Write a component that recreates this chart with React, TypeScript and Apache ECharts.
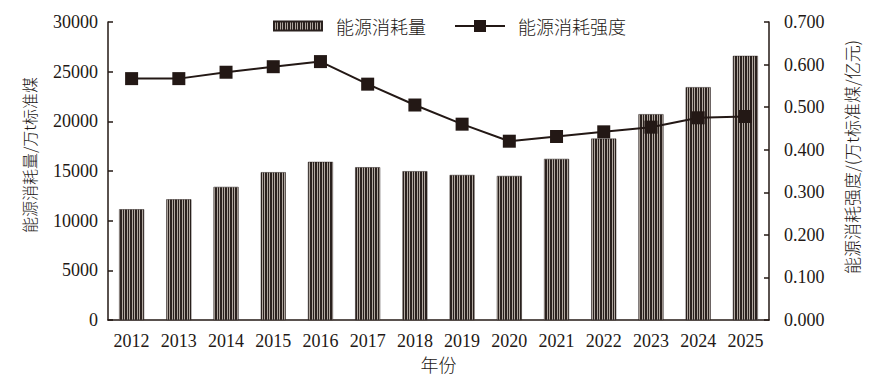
import React, { useEffect, useRef } from "react";
import * as echarts from "echarts";

const years = ["2012", "2013", "2014", "2015", "2016", "2017", "2018", "2019", "2020", "2021", "2022", "2023", "2024", "2025"];
const consumption = [11150, 12150, 13400, 14880, 15920, 15380, 14980, 14600, 14500, 16220, 18260, 20720, 23440, 26590];
const intensity = [0.567, 0.567, 0.582, 0.595, 0.607, 0.554, 0.505, 0.46, 0.42, 0.431, 0.442, 0.453, 0.475, 0.478];

const INK = "#231815";
const NUM_FONT = "'Liberation Serif', 'Times New Roman', 'Noto Sans CJK SC', serif";
const CJK_FONT = "'Noto Sans CJK SC', sans-serif";

export default function App() {
  const ref = useRef<HTMLDivElement>(null);
  useEffect(() => {
    if (!ref.current) return;
    const chart = echarts.init(ref.current, undefined, { renderer: "svg" });

    const c = document.createElement("canvas");
    c.width = 5;
    c.height = 4;
    const ctx = c.getContext("2d")!;
    ctx.fillStyle = "#b0a79f";
    ctx.fillRect(0, 0, 5, 4);
    ctx.fillStyle = "#2a211e";
    ctx.fillRect(0, 0, 2, 4);
    ctx.fillRect(3, 0, 1, 4);
    const pattern: any = { image: c, repeat: "repeat", imageWidth: 5, imageHeight: 4 };

    chart.setOption({
      animation: false,
      backgroundColor: "#ffffff",
      grid: { left: 108, right: 112, top: 22, bottom: 61, containLabel: false },
      legend: {
        left: 268,
        top: 12,
        itemWidth: 50,
        itemHeight: 15,
        itemGap: 28,
        textStyle: { fontSize: 18, fontWeight: 300, color: INK, fontFamily: CJK_FONT, padding: [0, 0, 0, 8] },
        data: [
          { name: "能源消耗量", icon: "path://M0,0 M0,3 L48,3 L48,12 L0,12 Z M48,15" },
          { name: "能源消耗强度" },
        ],
      },
      xAxis: {
        type: "category",
        data: years,
        name: "年份",
        nameLocation: "middle",
        nameGap: 34,
        nameTextStyle: { fontSize: 18, fontWeight: 300, color: INK, fontFamily: CJK_FONT },
        axisLine: { show: true, lineStyle: { color: INK, width: 1.5 } },
        axisTick: { show: false },
        axisLabel: { fontSize: 18, color: INK, fontFamily: NUM_FONT, margin: 12 },
      },
      yAxis: [
        {
          type: "value",
          min: 0,
          max: 30000,
          interval: 5000,
          position: "left",
          axisLine: { show: true, lineStyle: { color: INK, width: 1.5 } },
          axisTick: { show: true, inside: true, length: 5, lineStyle: { color: INK, width: 1.5 } },
          axisLabel: { fontSize: 18, color: INK, fontFamily: NUM_FONT, margin: 10, formatter: (v: number) => String(v) },
          splitLine: { show: false },
        },
        {
          type: "value",
          min: 0,
          max: 0.7,
          interval: 0.1,
          position: "right",
          axisLine: { show: true, lineStyle: { color: INK, width: 1.5 } },
          axisTick: { show: true, inside: true, length: 5, lineStyle: { color: INK, width: 1.5 } },
          axisLabel: { fontSize: 18, color: INK, fontFamily: NUM_FONT, margin: 15, formatter: (v: number) => v.toFixed(3) },
          splitLine: { show: false },
        },
      ],
      graphic: [
        {
          type: "text",
          x: 29,
          y: 155,
          rotation: Math.PI / 2,
          style: {
            text: "能源消耗量/万t标准煤",
            fill: INK,
            font: `300 16px ${CJK_FONT}`,
            align: "center",
            verticalAlign: "middle",
          },
        },
        {
          type: "text",
          x: 851,
          y: 157,
          rotation: Math.PI / 2,
          style: {
            text: "能源消耗强度/(万t标准煤/亿元)",
            fill: INK,
            font: `300 17px ${CJK_FONT}`,
            align: "center",
            verticalAlign: "middle",
          },
        },
      ],
      series: [
        {
          name: "能源消耗量",
          type: "bar",
          data: consumption,
          barWidth: 25,
          yAxisIndex: 0,
          itemStyle: { color: pattern, borderColor: "#2a211e", borderWidth: 0.5 },
        },
        {
          name: "能源消耗强度",
          type: "line",
          data: intensity,
          yAxisIndex: 1,
          symbol: "rect",
          symbolSize: 13,
          lineStyle: { color: INK, width: 2 },
          itemStyle: { color: INK },
        },
      ],
    });
    return () => chart.dispose();
  }, []);
  return <div ref={ref} style={{ width: 881, height: 381, position: "absolute", left: 0, top: 0 }} />;
}
